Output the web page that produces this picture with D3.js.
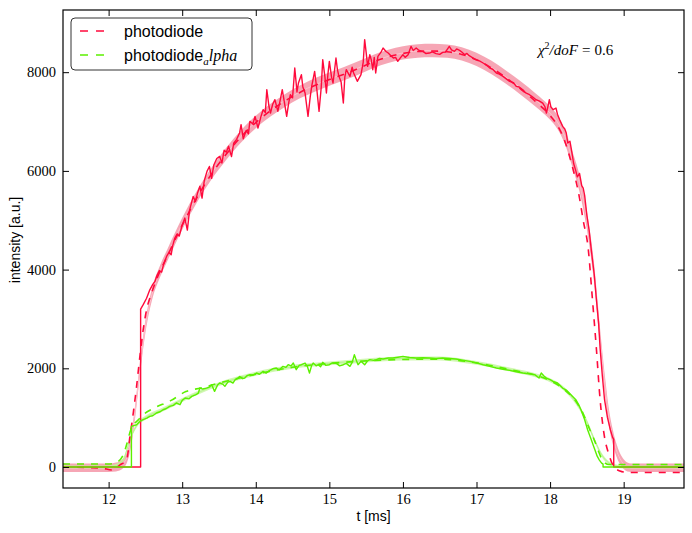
<!DOCTYPE html>
<html><head><meta charset="utf-8">
<script src="https://cdn.jsdelivr.net/npm/d3@7/dist/d3.min.js"></script>
<style>body{margin:0;background:#fff}svg{display:block}</style>
</head><body>
<svg id="c" width="692" height="533"></svg>
<script>
// ---------- data (t [ms], intensity [a.u.]) ----------
const xTicks = [12,13,14,15,16,17,18,19];
const yTicks = [0,2000,4000,6000,8000];
const xDomain = [11.38, 19.82];
const yDomain = [-425, 9260];
const seriesNames = ["photodiode", "photodiode_alpha"];
const chiText = "0.6";

const redData = [[11.38,0],[12.435,0],[12.435,3200],[12.47,3290],[12.516,3420],[12.56,3590],[12.6,3700],[12.63,3760],[12.652,3862],[12.69,3980],[12.72,3950],[12.75,4120],[12.788,4268],[12.82,4350],[12.85,4300],[12.87,4480],[12.9,4640],[12.93,4720],[12.96,4680],[13.0,4900],[13.036,5045],[13.07,4800],[13.1,5200],[13.149,5483],[13.18,5380],[13.21,5560],[13.24,5690],[13.27,5450],[13.3,5800],[13.337,5990],[13.37,6090],[13.4,5850],[13.43,6120],[13.47,6250],[13.51,6294],[13.54,6160],[13.57,6420],[13.6,6380],[13.63,6500],[13.67,6290],[13.7,6560],[13.74,6640],[13.78,6768],[13.8,6936],[13.83,6650],[13.87,6820],[13.9,6750],[13.92,7004],[13.96,6950],[13.99,7105],[14.03,6869],[14.07,7100],[14.1,7240],[14.13,7180],[14.15,7646],[14.18,7300],[14.2,7173],[14.23,7350],[14.26,7443],[14.3,7207],[14.33,7420],[14.36,7646],[14.39,7380],[14.42,7105],[14.45,7400],[14.47,7544],[14.5,7480],[14.53,8085],[14.56,7600],[14.58,7781],[14.62,7950],[14.64,7700],[14.67,7578],[14.71,7105],[14.74,7500],[14.76,7713],[14.8,8017],[14.83,7650],[14.86,7207],[14.89,7700],[14.91,8254],[14.94,7900],[14.96,7578],[14.98,7950],[15.0,8220],[15.03,7900],[15.05,7781],[15.09,8287],[15.11,8050],[15.13,7916],[15.16,7800],[15.19,7376],[15.21,7900],[15.23,8051],[15.28,7916],[15.31,8100],[15.33,7984],[15.38,7815],[15.43,7950],[15.46,8200],[15.48,8659],[15.5,8400],[15.52,8119],[15.55,8354],[15.57,8250],[15.59,8050],[15.61,8300],[15.63,7983],[15.66,8321],[15.7,8400],[15.73,8489],[15.77,8420],[15.8,8388],[15.84,8330],[15.87,8287],[15.9,8300],[15.93,8219],[15.97,8300],[16.0,8354],[16.03,8300],[16.07,8354],[16.11,8523],[16.14,8440],[16.18,8489],[16.22,8440],[16.27,8422],[16.31,8380],[16.36,8388],[16.4,8410],[16.45,8375],[16.5,8360],[16.54,8402],[16.58,8410],[16.63,8523],[16.66,8450],[16.7,8422],[16.73,8470],[16.77,8442],[16.8,8410],[16.84,8354],[16.87,8380],[16.9,8334],[16.95,8290],[16.99,8253],[17.04,8230],[17.09,8186],[17.13,8150],[17.18,8084],[17.22,8060],[17.27,7983],[17.31,7960],[17.36,7915],[17.4,7870],[17.45,7814],[17.5,7790],[17.54,7713],[17.58,7700],[17.63,7645],[17.67,7580],[17.72,7544],[17.76,7500],[17.81,7442],[17.85,7420],[17.9,7375],[17.93,7300],[17.95,7172],[17.97,7300],[17.99,7442],[18.01,7300],[18.04,7240],[18.08,7274],[18.1,7150],[18.13,7038],[18.17,6903],[18.2,6850],[18.22,6768],[18.24,6565],[18.27,6600],[18.29,6430],[18.32,6150],[18.35,6000],[18.37,5880],[18.4,5950],[18.43,5700],[18.45,5650],[18.47,5500],[18.5,5100],[18.53,4800],[18.56,4400],[18.6,3900],[18.63,3390],[18.66,2900],[18.68,2400],[18.71,1850],[18.74,1364],[18.78,1000],[18.82,750],[18.85,600],[18.865,560],[18.865,0],[19.82,0]];

const redModel = [[11.38,0],[11.9,-20],[12.05,-60],[12.15,40],[12.245,148],[12.29,620],[12.335,1094],[12.38,1634],[12.425,2241],[12.47,2782],[12.516,3187],[12.584,3526],[12.65,3795],[12.8,4280],[13.0,4900],[13.2,5460],[13.4,5940],[13.6,6340],[13.8,6690],[14.0,6980],[14.2,7220],[14.4,7420],[14.6,7590],[14.8,7730],[15.0,7850],[15.2,7960],[15.4,8080],[15.6,8210],[15.8,8310],[16.0,8380],[16.2,8420],[16.4,8430],[16.6,8415],[16.8,8360],[17.0,8250],[17.2,8090],[17.4,7890],[17.6,7660],[17.8,7410],[18.0,7120],[18.1,6920],[18.2,6600],[18.3,6100],[18.4,5450],[18.45,5000],[18.52,4400],[18.57,3500],[18.63,2380],[18.68,1360],[18.73,700],[18.8,250],[18.87,0],[18.95,-80],[19.0,-100],[19.1,-110],[19.82,-110]];

// fit curve: [t, centre, half-width of uncertainty band]
const redFit = [[11.38,-15,85],[12.0,-15,85],[12.1,0,90],[12.2,80,100],[12.25,200,110],[12.3,500,120],[12.35,1000,130],[12.4,1650,130],[12.45,2300,130],[12.5,2850,130],[12.55,3250,120],[12.6,3560,120],[12.7,3970,120],[12.8,4300,120],[12.9,4620,120],[13.0,4930,120],[13.2,5480,120],[13.4,5950,120],[13.6,6350,125],[13.8,6700,125],[14.0,6990,125],[14.2,7230,130],[14.4,7430,130],[14.6,7600,130],[14.8,7740,135],[15.0,7860,135],[15.2,7970,135],[15.4,8090,135],[15.6,8220,135],[15.8,8320,135],[16.0,8390,135],[16.2,8430,135],[16.4,8440,135],[16.6,8425,135],[16.8,8370,135],[17.0,8260,135],[17.2,8100,135],[17.4,7900,135],[17.6,7680,135],[17.8,7440,135],[18.0,7170,135],[18.1,6990,140],[18.2,6700,150],[18.3,6250,160],[18.4,5750,170],[18.5,5000,180],[18.55,4500,190],[18.6,3900,190],[18.65,3100,190],[18.7,2300,190],[18.75,1600,180],[18.8,1000,170],[18.85,620,150],[18.9,350,130],[18.95,170,110],[19.0,60,100],[19.05,0,90],[19.1,-15,85],[19.82,-15,85]];

const greenData = [[11.38,0],[12.31,0],[12.31,824],[12.38,857],[12.43,930],[12.47,959],[12.52,990],[12.56,1026],[12.6,1040],[12.65,1094],[12.7,1120],[12.74,1161],[12.78,1180],[12.83,1229],[12.88,1250],[12.92,1297],[12.97,1263],[13.0,1350],[13.04,1398],[13.09,1380],[13.13,1432],[13.18,1460],[13.22,1499],[13.24,1600],[13.28,1580],[13.33,1600],[13.37,1620],[13.4,1668],[13.44,1533],[13.48,1660],[13.51,1702],[13.55,1680],[13.58,1634],[13.62,1720],[13.65,1736],[13.69,1700],[13.72,1769],[13.75,1790],[13.78,1837],[13.82,1790],[13.85,1803],[13.88,1850],[13.92,1871],[13.96,1860],[14.01,1905],[14.05,1880],[14.1,1938],[14.14,1900],[14.19,1959],[14.23,1990],[14.28,2006],[14.32,1970],[14.37,2040],[14.41,2020],[14.44,2073],[14.48,2050],[14.51,2107],[14.55,1972],[14.59,2060],[14.62,2073],[14.67,2107],[14.7,2040],[14.73,1905],[14.76,2060],[14.78,2107],[14.82,2050],[14.85,2073],[14.88,2030],[14.91,2121],[14.95,2060],[15.0,2073],[15.04,2110],[15.1,2094],[15.14,2050],[15.19,2073],[15.23,2100],[15.28,2040],[15.31,2120],[15.34,2276],[15.37,2150],[15.39,2073],[15.43,2141],[15.48,2073],[15.52,2150],[15.55,2175],[15.6,2160],[15.64,2175],[15.68,2200],[15.73,2188],[15.8,2210],[15.86,2208],[15.93,2225],[16.0,2242],[16.09,2220],[16.18,2208],[16.27,2215],[16.36,2208],[16.45,2200],[16.54,2208],[16.63,2200],[16.72,2188],[16.81,2165],[16.91,2141],[17.0,2110],[17.09,2073],[17.18,2040],[17.27,2006],[17.36,1980],[17.45,1959],[17.54,1930],[17.63,1905],[17.71,1890],[17.79,1871],[17.85,1803],[17.88,1905],[17.92,1840],[17.95,1803],[18.0,1770],[18.04,1736],[18.1,1702],[18.17,1600],[18.22,1560],[18.26,1499],[18.3,1440],[18.35,1364],[18.39,1260],[18.42,1161],[18.47,959],[18.51,756],[18.56,553],[18.6,385],[18.64,220],[18.67,140],[18.7,80],[18.72,60],[18.72,0],[19.82,0]];

const greenModel = [[11.38,60],[12.0,60],[12.1,90],[12.2,250],[12.25,480],[12.3,750],[12.35,880],[12.4,950],[12.47,1060],[12.6,1180],[12.85,1350],[13.05,1530],[13.25,1600],[13.5,1700],[14.0,1880],[14.5,2020],[15.0,2100],[15.5,2150],[16.0,2180],[16.5,2185],[17.0,2110],[17.5,1960],[17.8,1860],[18.0,1750],[18.2,1560],[18.35,1330],[18.45,1080],[18.5,900],[18.55,720],[18.6,550],[18.65,350],[18.7,170],[18.75,80],[18.8,50],[19.82,50]];

const greenFit = [[11.38,0,30],[12.0,0,30],[12.1,30,30],[12.2,150,35],[12.3,600,40],[12.4,880,40],[12.5,1000,40],[12.7,1140,40],[13.0,1360,40],[13.5,1680,40],[14.0,1890,40],[14.5,2030,40],[15.0,2100,40],[15.5,2160,40],[16.0,2200,40],[16.5,2200,40],[17.0,2110,40],[17.5,1960,40],[17.8,1860,40],[18.0,1760,40],[18.2,1570,40],[18.4,1200,45],[18.5,920,45],[18.6,560,45],[18.7,250,40],[18.8,80,35],[18.9,20,30],[19.0,0,30],[19.82,0,30]];

// ---------- drawing ----------
const L = 63, R = 684, T = 10, B = 488;
const RED = "#ff0a3c", GREEN = "#5cf000";
const svg = d3.select("#c");
const x = d3.scaleLinear().domain(xDomain).range([L, R]);
const y = d3.scaleLinear().domain(yDomain).range([B, T]);

svg.append("defs").append("clipPath").attr("id","clip")
  .append("rect").attr("x",L).attr("y",T).attr("width",R-L).attr("height",B-T);
const plot = svg.append("g").attr("clip-path","url(#clip)");

const line = d3.line().x(d=>x(d[0])).y(d=>y(d[1]));
const band = d3.area().x(d=>x(d[0])).y0(d=>y(d[1]-d[2])).y1(d=>y(d[1]+d[2])).curve(d3.curveMonotoneX);
const smooth = d3.line().x(d=>x(d[0])).y(d=>y(d[1])).curve(d3.curveMonotoneX);

plot.append("path").datum(redFit).attr("d",band).attr("fill","#f597a8").attr("opacity",0.85);
plot.append("path").datum(greenFit).attr("d",band).attr("fill","#c6f5a0").attr("opacity",0.8);
plot.append("path").datum(redFit).attr("d",smooth).attr("fill","none").attr("stroke","#ffc2cc").attr("stroke-width",1);
plot.append("path").datum(greenFit).attr("d",smooth).attr("fill","none").attr("stroke","#b8f590").attr("stroke-width",1);

plot.append("path").datum(redData).attr("d",line).attr("fill","none").attr("stroke",RED).attr("stroke-width",1.4).attr("stroke-linejoin","round");
plot.append("path").datum(redModel).attr("d",smooth).attr("fill","none").attr("stroke",RED).attr("stroke-width",1.6).attr("stroke-dasharray","7,7");
plot.append("path").datum(greenData).attr("d",line).attr("fill","none").attr("stroke",GREEN).attr("stroke-width",1.4).attr("stroke-linejoin","round");
plot.append("path").datum(greenModel).attr("d",smooth).attr("fill","none").attr("stroke",GREEN).attr("stroke-width",1.6).attr("stroke-dasharray","7,7");

// axes (ticks inward on all four sides)
const tickFont = "'Liberation Serif', 'DejaVu Serif', serif";
function styleAxis(g, labels){
  g.select(".domain").remove();
  g.selectAll(".tick line").attr("stroke","#000").attr("stroke-width",1);
  g.selectAll(".tick text").attr("font-family",tickFont).attr("font-size",14.5).attr("fill","#000");
  if(!labels) g.selectAll(".tick text").remove();
}
svg.append("g").attr("transform",`translate(0,${B})`)
  .call(d3.axisBottom(x).tickValues(xTicks).tickSizeInner(-6).tickSizeOuter(0).tickPadding(6).tickFormat(d3.format("d")))
  .call(g=>styleAxis(g,true));
svg.append("g").attr("transform",`translate(0,${T})`)
  .call(d3.axisTop(x).tickValues(xTicks).tickSizeInner(-6).tickSizeOuter(0))
  .call(g=>styleAxis(g,false));
svg.append("g").attr("transform",`translate(${L},0)`)
  .call(d3.axisLeft(y).tickValues(yTicks).tickSizeInner(-6).tickSizeOuter(0).tickPadding(7).tickFormat(d3.format("d")))
  .call(g=>styleAxis(g,true));
svg.append("g").attr("transform",`translate(${R},0)`)
  .call(d3.axisRight(y).tickValues(yTicks).tickSizeInner(-6).tickSizeOuter(0))
  .call(g=>styleAxis(g,false));

svg.append("rect").attr("x",L).attr("y",T).attr("width",R-L).attr("height",B-T)
  .attr("fill","none").attr("stroke","#000").attr("stroke-width",1.2);

const sans = "'Liberation Sans', Arial, sans-serif";
svg.append("text").attr("x",(L+R)/2).attr("y",521).attr("text-anchor","middle")
  .attr("font-family",sans).attr("font-size",14).text("t [ms]");
svg.append("text").attr("transform","translate(20,240) rotate(-90)").attr("text-anchor","middle")
  .attr("font-family",sans).attr("font-size",14).text("intensity [a.u.]");

// chi^2 annotation
const chi = svg.append("text").attr("x",538).attr("y",55).attr("font-family",tickFont).attr("font-size",15);
chi.append("tspan").attr("font-style","italic").text("χ");
chi.append("tspan").attr("font-size",10).attr("dy",-6).text("2");
chi.append("tspan").attr("dy",6).attr("font-style","italic").text("/doF");
chi.append("tspan").attr("dx",4).text("=");
chi.append("tspan").attr("dx",4).text(chiText);

// legend
const lg = svg.append("g");
lg.append("rect").attr("x",71).attr("y",18).attr("width",181).attr("height",52).attr("rx",4)
  .attr("fill","#fff").attr("stroke","#333").attr("stroke-width",1);
const legendItems = [{name:seriesNames[0], color:RED, yy:31},{name:seriesNames[1], color:GREEN, yy:55}];
legendItems.forEach((it,i)=>{
  lg.append("line").attr("x1",80).attr("x2",108).attr("y1",it.yy).attr("y2",it.yy)
    .attr("stroke",it.color).attr("stroke-width",1.6).attr("stroke-dasharray","8,8");
  const t = lg.append("text").attr("x",124).attr("y",it.yy+6).attr("font-family",sans).attr("font-size",16);
  const parts = it.name.split("_");
  t.append("tspan").text(parts[0]);
  if(parts[1]){
    t.append("tspan").attr("font-size",11).attr("dy",4).attr("font-family",tickFont).attr("font-style","italic").text(parts[1][0]);
    t.append("tspan").attr("dy",-4).attr("font-family",tickFont).attr("font-style","italic").attr("font-size",16).text(parts[1].slice(1));
  }
});
</script>
</body></html>
